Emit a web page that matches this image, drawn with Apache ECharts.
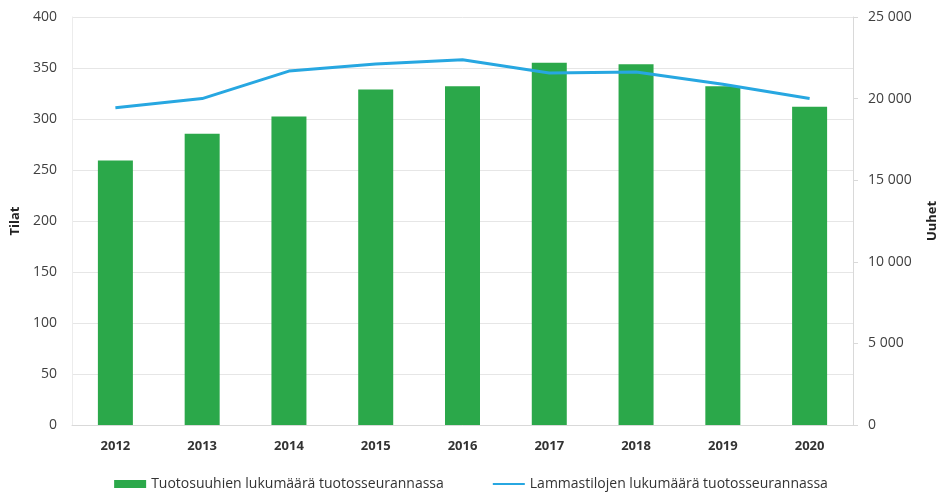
<!DOCTYPE html>
<html>
<head>
<meta charset="utf-8">
<script src="https://cdn.jsdelivr.net/npm/echarts@6/dist/echarts.min.js"></script>
<style>
  html, body { margin: 0; padding: 0; background: #fff; }
  #chart { width: 942px; height: 494px; }
</style>
</head>
<body>
<div id="chart"></div>
<script>
// vuodet
const years = ['2012', '2013', '2014', '2015', '2016', '2017', '2018', '2019', '2020']
// tuotosuuhet (oikea akseli)
const ewes = [16200, 17850, 18900, 20550, 20750, 22200, 22100, 20750, 19500]
// lammastilat (vasen akseli)
const farms = [311, 320, 347, 354, 358, 345, 346, 334, 320]

const barName = 'Tuotosuuhien lukumäärä tuotosseurannassa'
const lineName = 'Lammastilojen lukumäärä tuotosseurannassa'

const font = '"Open Sans", "Liberation Sans", sans-serif'
const textColor = '#404040'

function fmtThousands(v) {
    return String(v).replace(/\B(?=(\d{3})+(?!\d))/g, ' ')
}

const chart = echarts.init(document.getElementById('chart'))
chart.setOption({
    animation: false,
    textStyle: { fontFamily: font },
    legend: {
        top: 472,
        left: 'center',
        itemWidth: 32,
        itemHeight: 8,
        itemGap: 48,
        textStyle: { fontSize: 14, color: '#333', fontFamily: font },
        data: [
            { name: barName, icon: 'rect' },
            { name: lineName, itemStyle: { opacity: 0 } }
        ]
    },
    grid: { left: 72, right: 89, top: 17, bottom: 69, containLabel: false, outerBoundsMode: 'none' },
    xAxis: {
        type: 'category',
        data: years,
        axisLine: { lineStyle: { color: '#d9d9d9' } },
        axisTick: { show: false },
        axisLabel: { margin: 15, fontSize: 13, color: '#333', fontWeight: 'bold', fontFamily: font }
    },
    yAxis: [
        {
            type: 'value',
            min: 0, max: 400, interval: 50,
            name: 'Tilat',
            nameLocation: 'middle',
            nameRotate: 90,
            nameGap: 44,
            nameTextStyle: { fontSize: 13, fontWeight: 'bold', color: '#222', fontFamily: font },
            axisLine: { show: true, lineStyle: { color: '#ececec' } },
            axisTick: { show: false },
            axisLabel: { margin: 15, fontSize: 14, color: textColor, fontFamily: font },
            splitLine: { lineStyle: { color: '#e6e6e6' } }
        },
        {
            type: 'value',
            min: 0, max: 25000, interval: 5000,
            position: 'right',
            name: 'Uuhet',
            nameLocation: 'middle',
            nameRotate: 90,
            nameGap: 73,
            nameTextStyle: { fontSize: 13, fontWeight: 'bold', color: '#222', fontFamily: font },
            axisLine: { show: true, lineStyle: { color: '#d9d9d9' } },
            axisTick: { show: true, length: 5, lineStyle: { color: '#d9d9d9' } },
            axisLabel: { margin: 15, fontSize: 14, color: textColor, fontFamily: font, formatter: fmtThousands },
            splitLine: { show: false }
        }
    ],
    series: [
        {
            name: barName,
            type: 'bar',
            yAxisIndex: 1,
            barWidth: 35,
            itemStyle: { color: '#2ba84a' },
            data: ewes
        },
        {
            name: lineName,
            type: 'line',
            yAxisIndex: 0,
            showSymbol: false,
            symbol: 'none',
            lineStyle: { color: '#27a7e1', width: 3 },
            itemStyle: { color: '#27a7e1' },
            data: farms
        }
    ]
})
</script>
</body>
</html>
